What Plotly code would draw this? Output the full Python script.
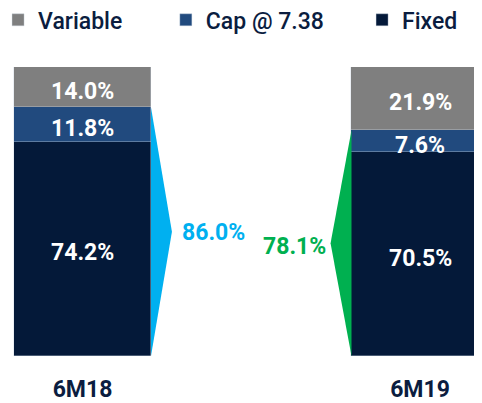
import plotly.graph_objects as go

categories = ["6M18", "6M19"]
variable = [14.0, 21.9]
cap = [11.8, 7.6]
fixed = [74.2, 70.5]
hedged_total = [86.0, 78.1]
hedged_labels = ["86.0%", "78.1%"]

# layout constants
positions = [0, 1]
bar_w = 0.406
wedge_len = 0.062
NAVY = "#0B1D3F"
colors = {"Fixed": "#041939", "Cap @ 7.38": "#214A7E", "Variable": "#7F7F7F"}
wedge_colors = ["#00B0F0", "#00B050"]
FONT = "Roboto"

fig = go.Figure()
annotations = []

# stacking order bottom -> top: Fixed, Cap, Variable
stack = [("Fixed", fixed, "legend3"), ("Cap @ 7.38", cap, "legend2"), ("Variable", variable, "legend")]
base = [0.0 for _ in positions]
for name, vals, lg in stack:
    fig.add_trace(go.Bar(
        x=positions, y=vals, name=name, width=bar_w,
        marker=dict(color=colors[name], line=dict(color="rgba(200,210,225,0.6)", width=0.6)),
        legend=lg, hoverinfo="skip",
    ))
    for j, (pos, v) in enumerate(zip(positions, vals)):
        annotations.append(dict(
            x=pos, y=base[j] + v / 2, xref="x", yref="y", text=f"{v:.1f}%",
            showarrow=False, xanchor="center", yanchor="middle", yshift=-4,
            font=dict(family=FONT, size=23, color="white", weight="bold"),
        ))
        base[j] += v

# wedges (bracket triangles) spanning the hedged portion
for i, (pos, tot) in enumerate(zip(positions, hedged_total)):
    side = 1 if i == 0 else -1
    edge = pos + side * bar_w / 2
    tip = edge + side * wedge_len
    fig.add_trace(go.Scatter(
        x=[edge, tip, edge, edge], y=[tot, tot / 2, 0, tot],
        mode="lines", fill="toself", fillcolor=wedge_colors[i],
        line=dict(color=wedge_colors[i], width=0), showlegend=False, hoverinfo="skip",
    ))
    annotations.append(dict(
        x=tip, y=tot / 2, xref="x", yref="y", text=hedged_labels[i], showarrow=False,
        xanchor="left" if side == 1 else "right", yanchor="middle",
        xshift=8 if side == 1 else -3, yshift=-1 if side == 1 else -3,
        font=dict(family=FONT, size=23, color=wedge_colors[i], weight="bold"),
    ))

legend_common = dict(orientation="h", yanchor="middle", y=1.163, xanchor="left",
                     font=dict(family=FONT, size=23, color=NAVY, weight=500),
                     bgcolor="rgba(0,0,0,0)", itemwidth=30)

fig.update_layout(
    width=474, height=395,
    margin=dict(l=0, r=0, t=59, b=47, autoexpand=False),
    barmode="stack", bargap=0,
    plot_bgcolor="white", paper_bgcolor="white",
    showlegend=True,
    legend=dict(legend_common, x=-0.021),
    legend2=dict(legend_common, x=0.333),
    legend3=dict(legend_common, x=0.747),
    annotations=annotations,
    xaxis=dict(range=[-0.2207, 1.1837], tickvals=positions, ticktext=categories,
               showgrid=False, zeroline=False, showline=False, ticks="",
               tickfont=dict(family=FONT, size=23, color=NAVY, weight="bold"),
               ticklabelstandoff=17, fixedrange=True),
    yaxis=dict(range=[0, 100], visible=False, fixedrange=True),
)

fig.write_html("out.html")
